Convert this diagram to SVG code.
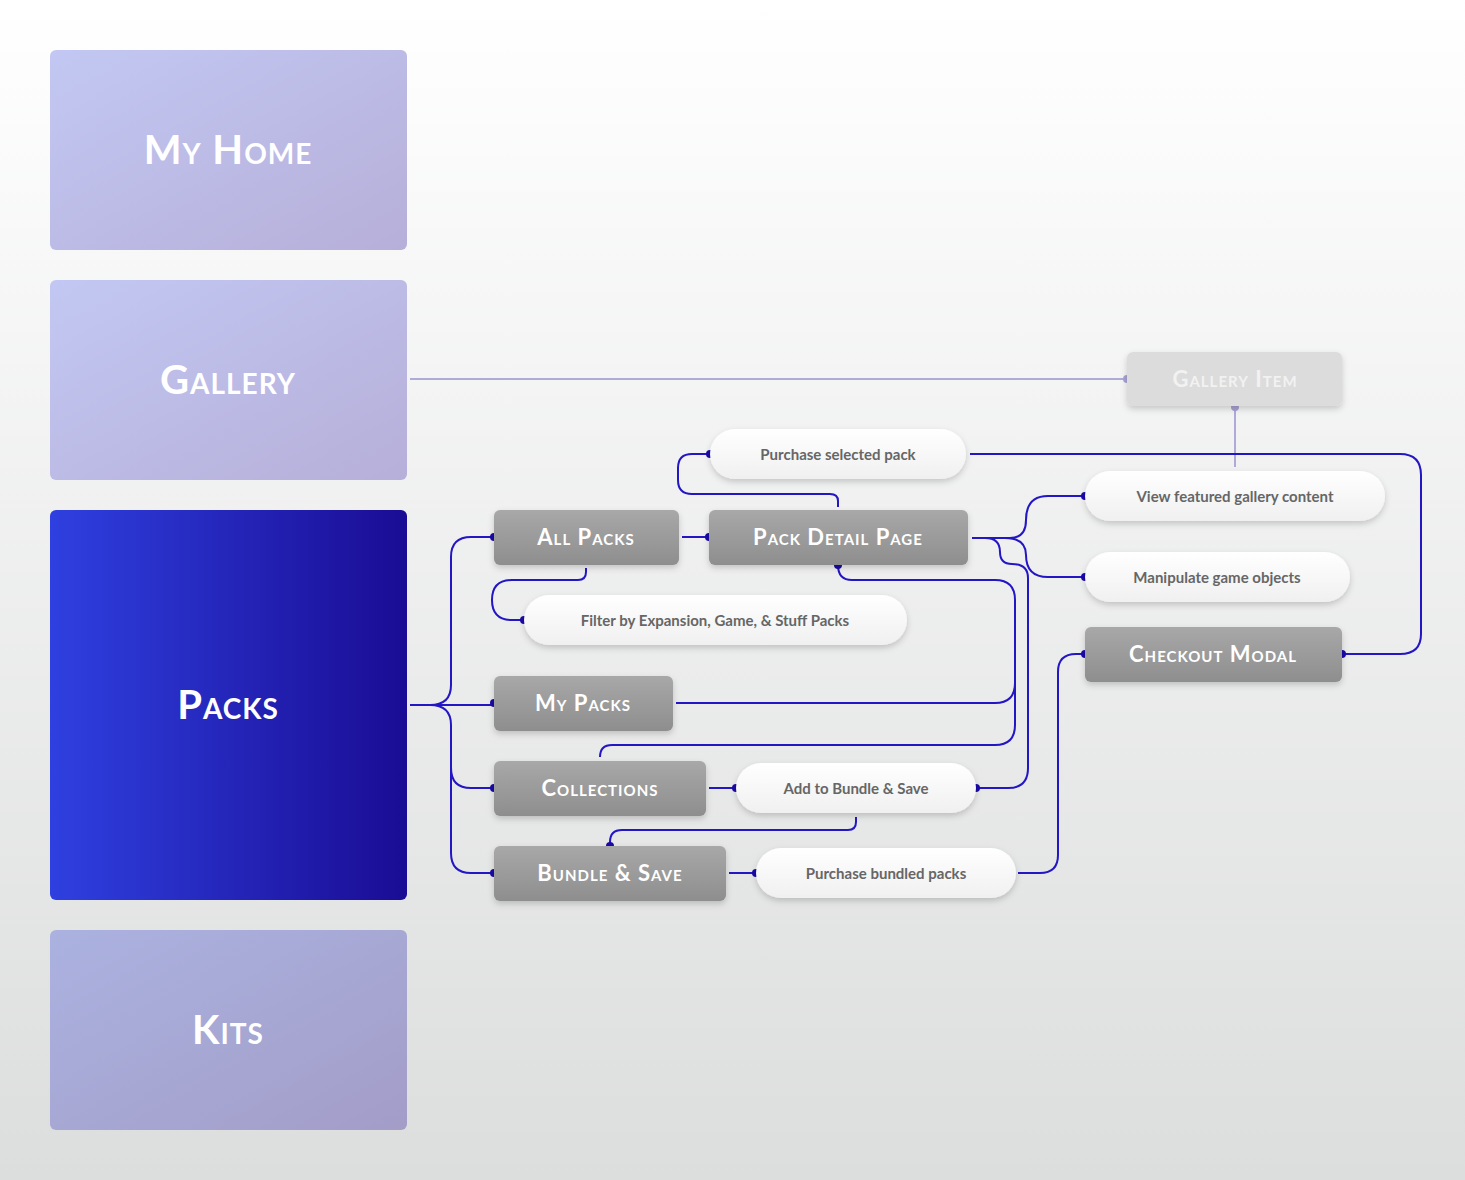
<svg xmlns="http://www.w3.org/2000/svg" width="1465" height="1180" viewBox="0 0 1465 1180">
<defs>
<linearGradient id="bg" x1="0" y1="0" x2="0" y2="1"><stop offset="0" stop-color="#ffffff"/><stop offset="1" stop-color="#dcdddd"/></linearGradient>
<linearGradient id="lt" x1="0" y1="0" x2="1" y2="1"><stop offset="0" stop-color="#c2c8f3"/><stop offset="1" stop-color="#b6afd9"/></linearGradient>
<linearGradient id="kt" x1="0" y1="0" x2="1" y2="1"><stop offset="0" stop-color="#abb2e0"/><stop offset="1" stop-color="#a39dc8"/></linearGradient>
<linearGradient id="dk" x1="0" y1="0" x2="1" y2="0"><stop offset="0" stop-color="#2f40e0"/><stop offset="1" stop-color="#1a0c94"/></linearGradient>
<linearGradient id="gr" x1="0" y1="0" x2="0" y2="1"><stop offset="0" stop-color="#a8a8a8"/><stop offset="1" stop-color="#8e8e8e"/></linearGradient>
<linearGradient id="pl" x1="0" y1="0" x2="0" y2="1"><stop offset="0" stop-color="#ffffff"/><stop offset="1" stop-color="#f0f0f0"/></linearGradient>
<filter id="sh" x="-10%" y="-20%" width="120%" height="160%"><feDropShadow dx="0" dy="3" stdDeviation="3" flood-opacity="0.18"/></filter>
</defs>
<style>
.big{font-family:Lato,"Liberation Sans",sans-serif;font-weight:700;font-size:40px;font-variant:small-caps;fill:#fff;text-anchor:middle;letter-spacing:1px}
.sm{font-family:Lato,"Liberation Sans",sans-serif;font-weight:700;font-size:22px;font-variant:small-caps;fill:#fff;text-anchor:middle;letter-spacing:1px}
.pt{font-family:Lato,"Liberation Sans",sans-serif;font-weight:700;font-size:15px;fill:#666;text-anchor:middle}
.c{fill:none;stroke:#2316c4;stroke-width:2}
.cl{fill:none;stroke:#b0aad8;stroke-width:2}
.d{fill:#1a0aa8}
.dl{fill:#a8a2d4}
</style>
<rect width="1465" height="1180" fill="url(#bg)"/>
<g id="connectors">
<path class="cl" d="M410,379 H1127"/>
<path class="cl" d="M1235,407 V467"/>
<circle class="dl" cx="1127" cy="379" r="4"/><circle class="dl" cx="1235" cy="407" r="4"/>
<path class="c" d="M410,705 H430 Q451,705 451,685 V557 Q451,537 471,537 H494"/>
<path class="c" d="M430,705 H494"/>
<path class="c" d="M430,705 Q451,705 451,725 V768 Q451,788 471,788 H494"/>
<path class="c" d="M451,760 V853 Q451,873 471,873 H494"/>
<path class="c" d="M682,537 H709"/>
<path class="c" d="M586,568 V572 Q586,580 578,580 H512 Q492,580 492,600 Q492,620 512,620 H524"/>
<path class="c" d="M838,507 V501 Q838,494 830,494 H692 Q678,494 678,480 V468 Q678,454 692,454 H710"/>
<path class="c" d="M970,454 H1400 Q1421,454 1421,475 V634 Q1421,654 1400,654 H1342"/>
<path class="c" d="M972,538 H1010 Q1026,538 1026,520 Q1026,496 1048,496 H1085"/>
<path class="c" d="M1005,538 Q1026,538 1026,555 Q1026,577 1048,577 H1085"/>
<path class="c" d="M985,538 Q1000,538 1000,552 Q1000,564 1012,564 Q1028,564 1028,578 V768 Q1028,788 1008,788 H976"/>
<path class="c" d="M838,565 Q838,580 852,580 H995 Q1015,580 1015,600 V683 Q1015,703 995,703 H676"/>
<path class="c" d="M1015,680 V725 Q1015,745 995,745 H612 Q600,745 600,757"/>
<path class="c" d="M709,788 H736"/>
<path class="c" d="M856,817 V822 Q856,830 848,830 H622 Q610,830 610,842 V846"/>
<path class="c" d="M729,873 H756"/>
<path class="c" d="M1018,873 H1040 Q1058,873 1058,855 V672 Q1058,654 1076,654 H1085"/>
<g>
<circle class="d" cx="494" cy="537" r="4"/><circle class="d" cx="494" cy="703" r="4"/><circle class="d" cx="494" cy="788" r="4"/><circle class="d" cx="494" cy="873" r="4"/>
<circle class="d" cx="709" cy="537" r="4"/><circle class="d" cx="524" cy="620" r="4"/><circle class="d" cx="710" cy="454" r="4"/>
<circle class="d" cx="1342" cy="654" r="4"/><circle class="d" cx="1085" cy="496" r="4"/><circle class="d" cx="1085" cy="577" r="4"/>
<circle class="d" cx="976" cy="788" r="4"/><circle class="d" cx="838" cy="565" r="4"/><circle class="d" cx="736" cy="788" r="4"/>
<circle class="d" cx="610" cy="846" r="4"/><circle class="d" cx="756" cy="873" r="4"/><circle class="d" cx="1085" cy="654" r="4"/>
</g>
</g>
<g id="my-home"><rect x="50" y="50" width="357" height="200" rx="6" fill="url(#lt)"/><text class="big" x="228" y="164">My Home</text></g>
<g id="gallery"><rect x="50" y="280" width="357" height="200" rx="6" fill="url(#lt)"/><text class="big" x="228" y="394">Gallery</text></g>
<g id="packs"><rect x="50" y="510" width="357" height="390" rx="6" fill="url(#dk)"/><text class="big" x="228" y="719">Packs</text></g>
<g id="kits"><rect x="50" y="930" width="357" height="200" rx="6" fill="url(#kt)"/><text class="big" x="228" y="1044">Kits</text></g>
<g id="gallery-item"><rect x="1127" y="352" width="215" height="54" rx="6" fill="#dcdcdc" filter="url(#sh)"/><text class="sm" x="1235" y="387" style="fill:#f2f2f2">Gallery Item</text></g>
<g id="all-packs"><rect x="494" y="510" width="185" height="55" rx="6" fill="url(#gr)" filter="url(#sh)"/><text class="sm" x="586" y="545">All Packs</text></g>
<g id="pack-detail"><rect x="709" y="510" width="259" height="55" rx="6" fill="url(#gr)" filter="url(#sh)"/><text class="sm" x="838" y="545">Pack Detail Page</text></g>
<g id="my-packs"><rect x="494" y="676" width="179" height="55" rx="6" fill="url(#gr)" filter="url(#sh)"/><text class="sm" x="583" y="711">My Packs</text></g>
<g id="collections"><rect x="494" y="761" width="212" height="55" rx="6" fill="url(#gr)" filter="url(#sh)"/><text class="sm" x="600" y="796">Collections</text></g>
<g id="bundle-save"><rect x="494" y="846" width="232" height="55" rx="6" fill="url(#gr)" filter="url(#sh)"/><text class="sm" x="610" y="881">Bundle &amp; Save</text></g>
<g id="checkout"><rect x="1085" y="627" width="257" height="55" rx="6" fill="url(#gr)" filter="url(#sh)"/><text class="sm" x="1213" y="662">Checkout Modal</text></g>
<g id="purchase-selected"><rect x="710" y="429" width="256" height="50" rx="25" fill="url(#pl)" filter="url(#sh)"/><text class="pt" x="838" y="460">Purchase selected pack</text></g>
<g id="view-featured"><rect x="1085" y="471" width="300" height="50" rx="25" fill="url(#pl)" filter="url(#sh)"/><text class="pt" x="1235" y="502">View featured gallery content</text></g>
<g id="manipulate"><rect x="1085" y="552" width="265" height="50" rx="25" fill="url(#pl)" filter="url(#sh)"/><text class="pt" x="1217" y="583">Manipulate game objects</text></g>
<g id="filter"><rect x="524" y="595" width="383" height="50" rx="25" fill="url(#pl)" filter="url(#sh)"/><text class="pt" x="715" y="626">Filter by Expansion, Game, &amp; Stuff Packs</text></g>
<g id="add-bundle"><rect x="736" y="763" width="240" height="50" rx="25" fill="url(#pl)" filter="url(#sh)"/><text class="pt" x="856" y="794">Add to Bundle &amp; Save</text></g>
<g id="purchase-bundled"><rect x="756" y="848" width="260" height="50" rx="25" fill="url(#pl)" filter="url(#sh)"/><text class="pt" x="886" y="879">Purchase bundled packs</text></g>
</svg>
